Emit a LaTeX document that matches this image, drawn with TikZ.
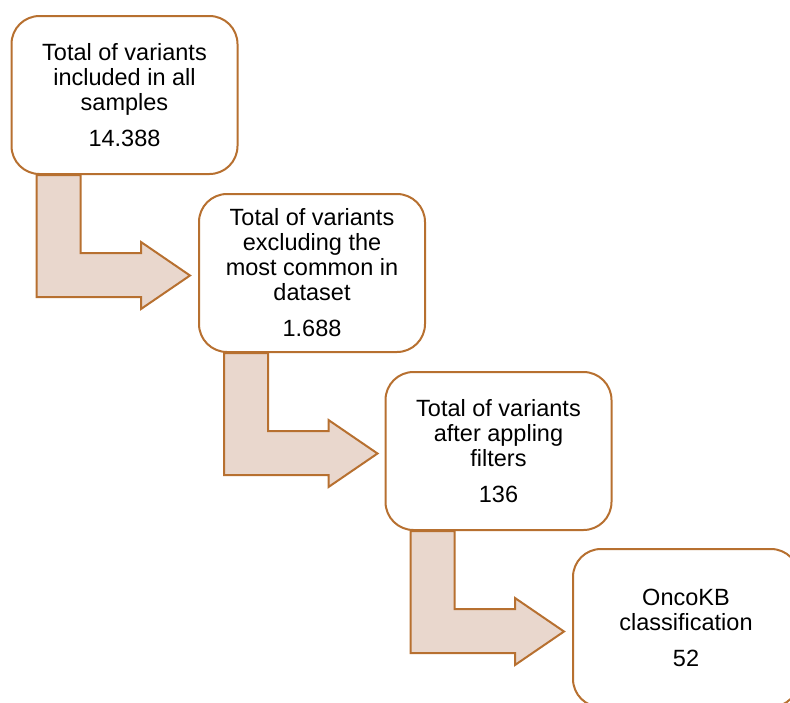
\documentclass[tikz,border=0pt]{standalone}
\usepackage{fontspec}
\setmainfont{Liberation Sans}
\usetikzlibrary{calc}
\definecolor{edgebrown}{RGB}{183,112,48}
\definecolor{arrowfill}{RGB}{233,215,205}
\tikzset{
  stagebox/.style={draw=edgebrown, line width=2pt, fill=white, rounded corners=28pt,
    minimum width=226pt, minimum height=158pt, inner sep=0pt, align=center,
    font=\fontsize{23.5pt}{25pt}\selectfont, text=black},
  bentarrow/.style={draw=edgebrown, line width=2pt, fill=arrowfill, line join=miter}
}
\newcommand{\bentarrowfrom}[1]{%
  \path[bentarrow]
    ($(#1.south west)+(26,0)$) coordinate (p0)
    -- ($(p0)+(44,0)$) -- ($(p0)+(44,78)$) -- ($(p0)+(104.5,78)$)
    -- ($(p0)+(104.5,67)$) -- ($(p0)+(153.5,100.5)$) -- ($(p0)+(104.5,134)$)
    -- ($(p0)+(104.5,122)$) -- ($(p0)+(0,122)$) -- cycle;}
\begin{document}
\begin{tikzpicture}[x=1pt,y=-1pt]
\useasboundingbox (0,0) rectangle (790,702);
\clip (0,0) rectangle (790,702);
\node[stagebox] (b1) at (124.5,95) {Total of variants\\included in all\\samples\\[11pt]14.388};
\node[stagebox] (b2) at (312,273) {Total of variants\\excluding the\\most common in\\dataset\\[11pt]1.688};
\node[stagebox] (b3) at (498.5,451) {Total of variants\\after appling\\filters\\[11pt]136};
\node[stagebox] (b4) at (686,628) {OncoKB\\classification\\[11pt]52};
\bentarrowfrom{b1}
\bentarrowfrom{b2}
\bentarrowfrom{b3}
\end{tikzpicture}
\end{document}
